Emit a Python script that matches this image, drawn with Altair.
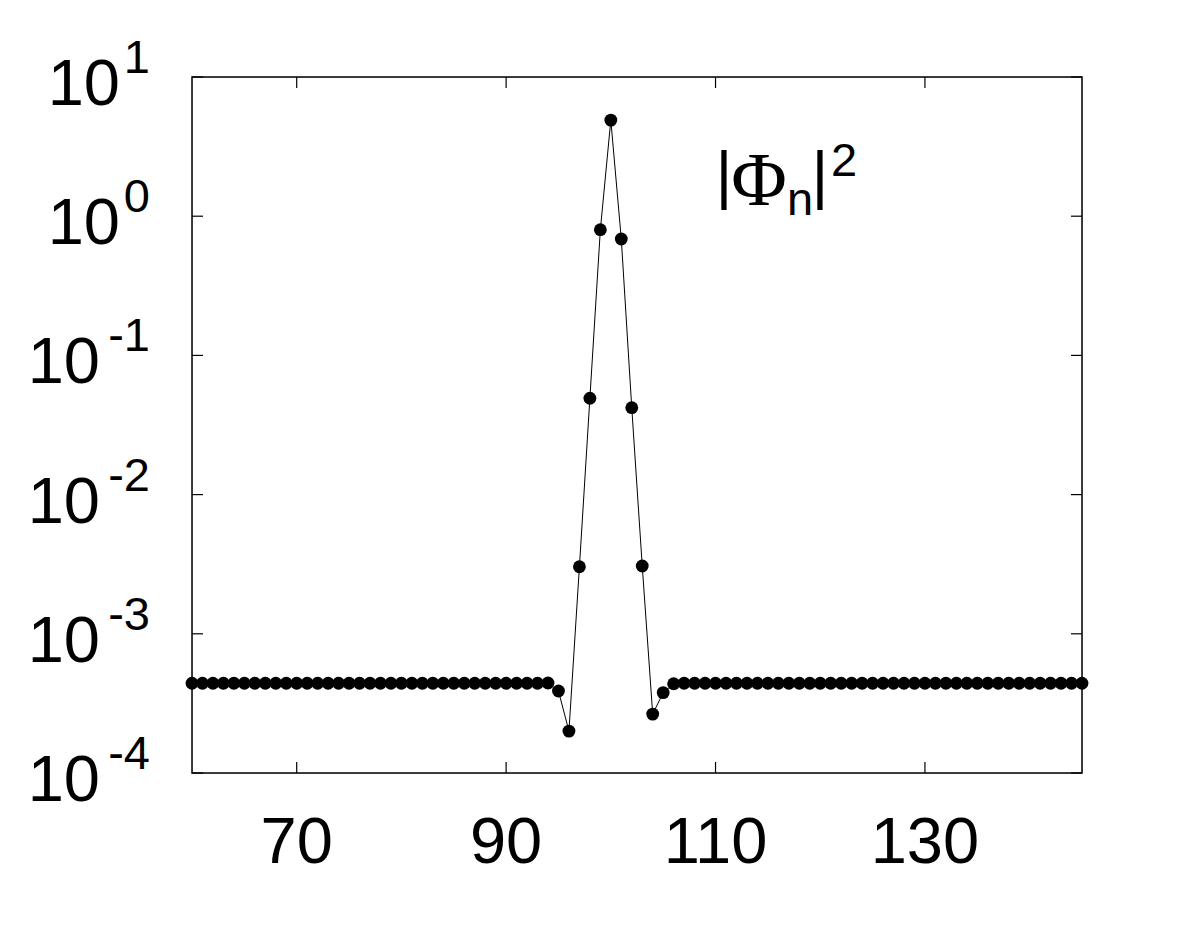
import altair as alt
import pandas as pd

# ---- data ----
n_values = list(range(60, 146))
phi2 = [
    4.41e-4, 4.41e-4, 4.41e-4, 4.41e-4, 4.41e-4, 4.41e-4, 4.41e-4, 4.41e-4, 4.41e-4, 4.41e-4,  # 60-69
    4.41e-4, 4.41e-4, 4.41e-4, 4.41e-4, 4.41e-4, 4.41e-4, 4.41e-4, 4.41e-4, 4.41e-4, 4.41e-4,  # 70-79
    4.41e-4, 4.41e-4, 4.41e-4, 4.41e-4, 4.41e-4, 4.41e-4, 4.41e-4, 4.41e-4, 4.41e-4, 4.41e-4,  # 80-89
    4.41e-4, 4.41e-4, 4.41e-4, 4.41e-4, 4.43e-4, 3.88e-4, 2.0e-4, 3.03e-3, 4.92e-2, 0.80,     # 90-99
    4.9, 0.686, 4.21e-2, 3.07e-3, 2.65e-4, 3.78e-4, 4.38e-4, 4.41e-4, 4.41e-4, 4.41e-4,       # 100-109
    4.41e-4, 4.41e-4, 4.41e-4, 4.41e-4, 4.41e-4, 4.41e-4, 4.41e-4, 4.41e-4, 4.41e-4, 4.41e-4,  # 110-119
    4.41e-4, 4.41e-4, 4.41e-4, 4.41e-4, 4.41e-4, 4.41e-4, 4.41e-4, 4.41e-4, 4.41e-4, 4.41e-4,  # 120-129
    4.41e-4, 4.41e-4, 4.41e-4, 4.41e-4, 4.41e-4, 4.41e-4, 4.41e-4, 4.41e-4, 4.41e-4, 4.41e-4,  # 130-139
    4.41e-4, 4.41e-4, 4.41e-4, 4.41e-4, 4.41e-4, 4.41e-4,                                      # 140-145
]
x_ticks = [70, 90, 110, 130]
y_exponents = [1, 0, -1, -2, -3, -4]
title_parts = ["|", "\u03a6", "n", "|", "2"]

W, H = 890, 696
SANS = "Liberation Sans"
SERIF = "Liberation Serif"
BIG, SMALL = 65, 47

df = pd.DataFrame({"n": n_values, "p": phi2})
xdf = pd.DataFrame({"t": x_ticks})
ydf = pd.DataFrame({"e": y_exponents})
one = pd.DataFrame({"k": [0]})

xscale = alt.Scale(domain=[60, 145], nice=False, zero=False)
yscale = alt.Scale(type="log", domain=[1e-4, 10], nice=False)

X = alt.X("n:Q", scale=xscale, axis=None)
Y = alt.Y("p:Q", scale=yscale, axis=None)

frame = alt.Chart(one).mark_rect(fill=None, stroke="black", strokeWidth=1.5).encode(
    x=alt.value(0), x2=alt.value(W), y=alt.value(0), y2=alt.value(H))

line = alt.Chart(df).mark_line(color="black", strokeWidth=1).encode(x=X, y=Y)
pts = alt.Chart(df).mark_circle(color="black", size=165, opacity=1).encode(x=X, y=Y)

# x ticks (inward, bottom and top)
xt = alt.Chart(xdf).transform_calculate(n="datum.t")
xtick_b = xt.mark_rule(color="black", strokeWidth=1.2).encode(x=X, y=alt.value(H), y2=alt.value(H - 11))
xtick_t = xt.mark_rule(color="black", strokeWidth=1.2).encode(x=X, y=alt.value(0), y2=alt.value(11))
xlab = xt.mark_text(font=SANS, fontSize=BIG, baseline="alphabetic", align="center", color="black").encode(
    x=X, y=alt.value(H + 90), text=alt.Text("t:N"))

# y ticks and labels
yt = alt.Chart(ydf).transform_calculate(p="pow(10, datum.e)", es="toString(datum.e)")
ytick_l = yt.mark_rule(color="black", strokeWidth=1.2).encode(y=Y, x=alt.value(0), x2=alt.value(11))
ytick_r = yt.mark_rule(color="black", strokeWidth=1.2).encode(y=Y, x=alt.value(W - 11), x2=alt.value(W))
ten_neg = yt.transform_filter("datum.e < 0").mark_text(
    font=SANS, fontSize=BIG, baseline="alphabetic", align="right", dy=28, color="black", text="10"
).encode(y=Y, x=alt.value(100 - 192))
ten_pos = yt.transform_filter("datum.e >= 0").mark_text(
    font=SANS, fontSize=BIG, baseline="alphabetic", align="right", dy=28, color="black", text="10"
).encode(y=Y, x=alt.value(120 - 192))
expo = yt.mark_text(
    font=SANS, fontSize=SMALL, baseline="alphabetic", align="right", dy=-4, color="black"
).encode(y=Y, x=alt.value(150 - 192), text="es:N")

# in-plot label |Phi_n|^2
def part(i, font, size, x, y):
    return alt.Chart(pd.DataFrame({"s": [title_parts[i]]})).mark_text(
        font=font, fontSize=size, baseline="alphabetic", align="center", color="black"
    ).encode(text="s:N", x=alt.value(x), y=alt.value(y))

lab = [
    part(0, SANS, BIG, 724 - 192, 197 - 77),
    part(1, SERIF, 76, 759 - 192, 205 - 77),
    part(2, SANS, SMALL, 800 - 192, 215 - 77),
    part(3, SANS, BIG, 820 - 192, 197 - 77),
    part(4, SANS, SMALL, 844 - 192, 176 - 77),
]

chart = alt.layer(
    frame, line, pts, xtick_b, xtick_t, xlab, ytick_l, ytick_r, ten_neg, ten_pos, expo, *lab
).properties(
    width=W, height=H,
    autosize=alt.AutoSizeParams(type="none"),
    padding={"left": 184, "top": 69, "right": 103, "bottom": 146},
).configure_view(stroke=None).configure(background="white")

chart.save("out.html", embed_options={"renderer": "svg", "actions": False})
